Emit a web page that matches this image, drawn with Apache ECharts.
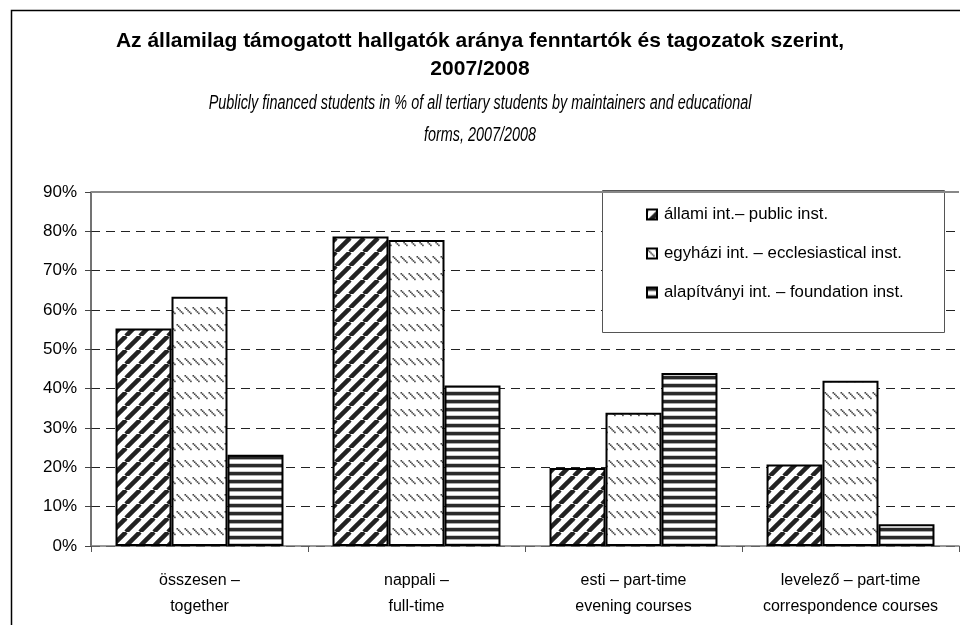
<!DOCTYPE html>
<html>
<head>
<meta charset="utf-8">
<script src="https://cdn.jsdelivr.net/npm/echarts@6/dist/echarts.min.js"></script>
<style>
  html, body { margin: 0; padding: 0; background: #fff; }
  #chart { width: 960px; height: 625px; }
</style>
</head>
<body>
<div id="chart"></div>
<script>
// adatok
const categories = [
  'összesen –\ntogether',
  'nappali –\nfull-time',
  'esti – part-time\nevening courses',
  'levelező – part-time\ncorrespondence courses'
]
const seriesNames = [
  'állami int.– public inst.',
  'egyházi int. – ecclesiastical inst.',
  'alapítványi int. – foundation inst.'
]
const publicInst = [55.3, 78.7, 19.8, 20.7]
const churchInst = [63.4, 77.8, 33.9, 42.0]
const foundationInst = [23.2, 40.8, 44.0, 5.5]
const yMin = 0
const yMax = 90
const yStep = 10

const FONT = "'Liberation Sans', Arimo, sans-serif"

// mintázatok (hatching)
function diagPattern() {
  const c = document.createElement('canvas')
  c.width = 14; c.height = 14
  const g = c.getContext('2d')
  g.fillStyle = '#fff'; g.fillRect(0, 0, 14, 14)
  g.strokeStyle = '#222'; g.lineWidth = 4.5
  for (const o of [-14, 0, 14]) {
    g.beginPath(); g.moveTo(o, 14); g.lineTo(o + 14, 0); g.stroke()
  }
  return c
}
function dotPattern() {
  const c = document.createElement('canvas')
  c.width = 8; c.height = 17
  const g = c.getContext('2d')
  g.fillStyle = '#fff'; g.fillRect(0, 0, 8, 17)
  g.fillStyle = '#444'
  for (let i = 0; i < 5; i++) g.fillRect(0.5 + i * 1.4, 1 + i * 1.4, 1.6, 1.6)
  return c
}
function hPattern() {
  const c = document.createElement('canvas')
  c.width = 8; c.height = 8
  const g = c.getContext('2d')
  g.fillStyle = '#fff'; g.fillRect(0, 0, 8, 8)
  g.fillStyle = '#2a2a2a'; g.fillRect(0, 0, 8, 3)
  g.fillStyle = '#aaa'; g.fillRect(0, 3, 8, 1)
  g.fillStyle = '#ccc'; g.fillRect(0, 7, 8, 1)
  return c
}
const fills = [diagPattern(), dotPattern(), hPattern()]

function bar(name, data, idx) {
  return {
    name: name,
    type: 'bar',
    data: data,
    barGap: 0,
    barCategoryGap: '22.6%',
    itemStyle: {
      color: { image: fills[idx], repeat: 'repeat' },
      borderColor: '#000',
      borderWidth: 2
    },
    emphasis: { disabled: true }
  }
}

const chart = echarts.init(document.getElementById('chart'))
const series = [
  bar(seriesNames[0], publicInst, 0),
  bar(seriesNames[1], churchInst, 1),
  bar(seriesNames[2], foundationInst, 2)
]
// felső keretvonal 90%-nál
series[0].markLine = {
  silent: true,
  symbol: 'none',
  label: { show: false },
  lineStyle: { color: '#888', type: 'solid', width: 2 },
  data: [{ yAxis: yMax }]
}

chart.setOption({
  animation: false,
  textStyle: { fontFamily: FONT },
  title: {
    text: 'Az államilag támogatott hallgatók aránya fenntartók és tagozatok szerint,\n2007/2008',
    left: 'center', top: 22,
    textStyle: { fontFamily: FONT, fontSize: 21, fontWeight: 'bold', color: '#000', lineHeight: 28 }
  },
  graphic: [
    { type: 'rect', left: 9, top: 8, z: -10, silent: true,
      shape: { width: 1000, height: 700 },
      style: { fill: 'none', stroke: '#000', lineWidth: 1.5 } },
    // alcím: keskeny dőlt betű imitálása
    { type: 'text', x: 480, y: 87, scaleX: 0.72, silent: true,
      style: {
        text: 'Publicly financed students in % of all tertiary students by maintainers and educational\nforms, 2007/2008',
        font: 'italic 20px ' + FONT, fill: '#000', align: 'center', verticalAlign: 'top', lineHeight: 32
      } },
    { type: 'rect', left: 602, top: 190, z: 5, silent: true,
      shape: { width: 342, height: 142 },
      style: { fill: '#fff', stroke: '#555', lineWidth: 1 } }
  ],
  legend: {
    orient: 'vertical',
    left: 646, top: 206,
    padding: 0,
    itemGap: 22,
    itemWidth: 10, itemHeight: 10,
    icon: 'rect',
    z: 10,
    textStyle: { fontFamily: FONT, fontSize: 16.8, color: '#000', padding: [0, 0, 0, 2] },
    data: seriesNames
  },
  grid: { left: 91, right: 1, top: 192, bottom: 79, containLabel: false },
  xAxis: {
    type: 'category',
    data: categories,
    axisLine: { lineStyle: { color: '#777', width: 1.5 } },
    axisTick: { show: true, length: 6, lineStyle: { color: '#555' } },
    axisLabel: { fontFamily: FONT, fontSize: 16, color: '#000', lineHeight: 26, margin: 22, interval: 0 }
  },
  yAxis: {
    type: 'value',
    min: yMin, max: yMax, interval: yStep,
    axisLine: { show: true, lineStyle: { color: '#444', width: 1.5 } },
    axisTick: { show: true, length: 6, lineStyle: { color: '#444' } },
    axisLabel: { fontFamily: FONT, fontSize: 17, color: '#000', margin: 14, formatter: '{value}%' },
    splitLine: { show: true, lineStyle: { color: '#222', type: [9, 6], width: 1 } }
  },
  series: series
})
</script>
</body>
</html>
